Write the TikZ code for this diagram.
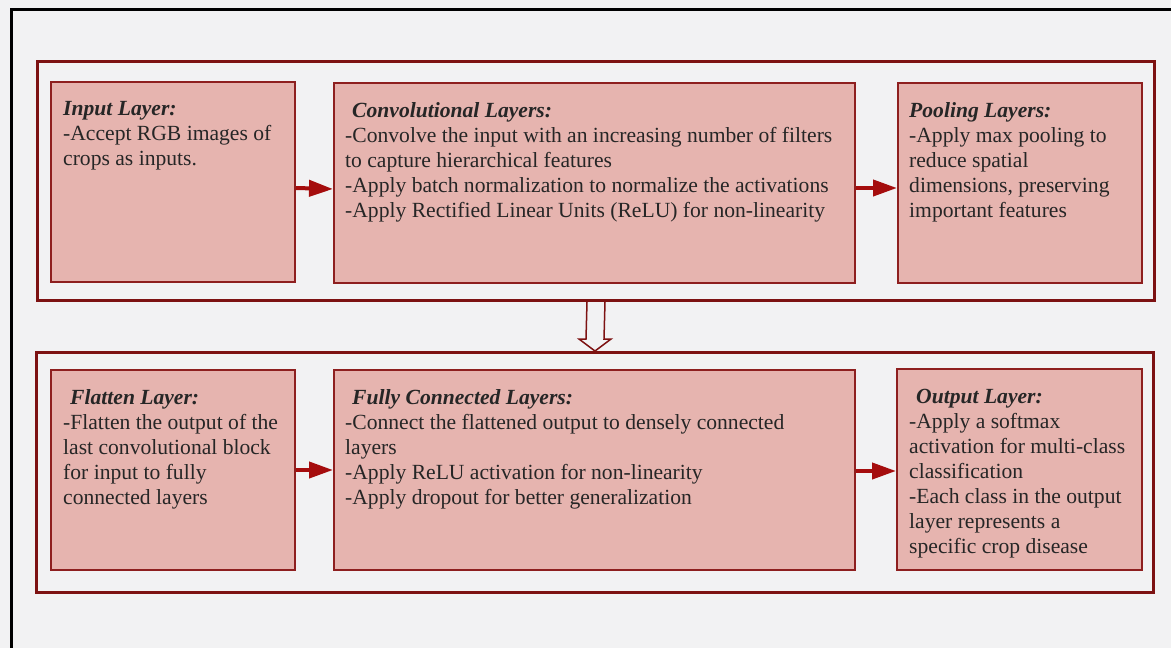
\documentclass[tikz,border=0pt]{standalone}
\usepackage{fontspec}
\setmainfont{Liberation Serif}
\newfontfamily\tms{Liberation Serif}
\usetikzlibrary{arrows.meta,calc}
\definecolor{bg}{HTML}{F2F2F3}
\definecolor{boxfill}{HTML}{E6B4AF}
\definecolor{boxline}{HTML}{8E1F1F}
\definecolor{frameline}{HTML}{7D1212}
\definecolor{arrowred}{HTML}{A50D0D}
\begin{document}
\begin{tikzpicture}[x=1pt,y=-1pt,
  layerbox/.style={draw=boxline, line width=2pt, fill=boxfill, inner sep=0pt, anchor=north west, minimum height=200pt},
  framebox/.style={draw=frameline, line width=3pt, inner sep=0pt, anchor=north west, minimum width=1117pt, minimum height=239pt},
  txt/.style={anchor=north west, inner sep=0pt, align=left, text=black!85, font=\tms\fontsize{21.6}{25}\selectfont},
  flowarrow/.style={draw=arrowred, line width=4pt, -{Triangle[length=24pt,width=16pt]}},
  hollow/.style={draw=frameline, line width=1.5pt, fill=bg, line join=miter}]
\fill[bg] (0,0) rectangle (1171,648);
\useasboundingbox (0,0) rectangle (1171,648);
\draw[black, line width=3pt] (11,649) -- (11,9) -- (1172,9);
% frames
\node[framebox] (top) at (36,60) {};
\node[framebox, minimum height=240pt] (low) at (35,351) {};
% top row boxes
\node[layerbox, minimum width=244pt] (in) at (50,81) {};
\node[layerbox, minimum width=521pt] (conv) at (333,82) {};
\node[layerbox, minimum width=244pt] (pool) at (897,82) {};
% bottom row boxes
\node[layerbox, minimum width=244pt] (flat) at (50,369) {};
\node[layerbox, minimum width=521pt] (fc) at (333,369) {};
\node[layerbox, minimum width=245pt, minimum height=201pt] (out) at (896,368) {};
% texts
\node[txt] (tin) at ($(in.north west)+(13,20)$) {\textbf{\textit{Input Layer:}}\\-Accept RGB images of\\crops as inputs.};
\node[txt] (tconv) at ($(conv.north west)+(12,20)$) {\hspace*{7pt}\textbf{\textit{Convolutional Layers:}}\\-Convolve the input with an increasing number of filters\\to capture hierarchical features\\-Apply batch normalization to normalize the activations\\-Apply Rectified Linear Units (ReLU) for non-linearity};
\node[txt] (tpool) at ($(pool.north west)+(12,20)$) {\textbf{\textit{Pooling Layers:}}\\-Apply max pooling to\\reduce spatial\\dimensions, preserving\\important features};
\node[txt] (tflat) at ($(flat.north west)+(13,20)$) {\hspace*{7pt}\textbf{\textit{Flatten Layer:}}\\-Flatten the output of the\\last convolutional block\\for input to fully\\connected layers};
\node[txt] (tfc) at ($(fc.north west)+(12,20)$) {\hspace*{7pt}\textbf{\textit{Fully Connected Layers:}}\\-Connect the flattened output to densely connected\\layers\\-Apply ReLU activation for non-linearity\\-Apply dropout for better generalization};
\node[txt] (tout) at ($(out.north west)+(13,21)$) {\hspace*{7pt}\textbf{\textit{Output Layer:}}\\-Apply a softmax\\activation for multi-class\\classification\\-Each class in the output\\layer represents a\\specific crop disease};
% arrows
\draw[flowarrow] ([yshift=-6pt]in.east) -- ([yshift=-6pt]conv.west);
\draw[flowarrow] ([yshift=-5pt]conv.east) -- ([yshift=-5pt]pool.west);
\draw[flowarrow] (flat.east) -- (fc.west);
\draw[flowarrow] ([yshift=-1pt]fc.east) -- ([yshift=-1pt]out.west |- fc.east);
% hollow down arrow
\draw[hollow] ($(top.south)+(-9,0)$) -- ($(low.north)+(-9,-12)$) -- ($(low.north)+(-16,-12)$) -- (low.north) -- ($(low.north)+(16,-12)$) -- ($(low.north)+(9,-12)$) -- ($(top.south)+(9,0)$);
\end{tikzpicture}
\end{document}
